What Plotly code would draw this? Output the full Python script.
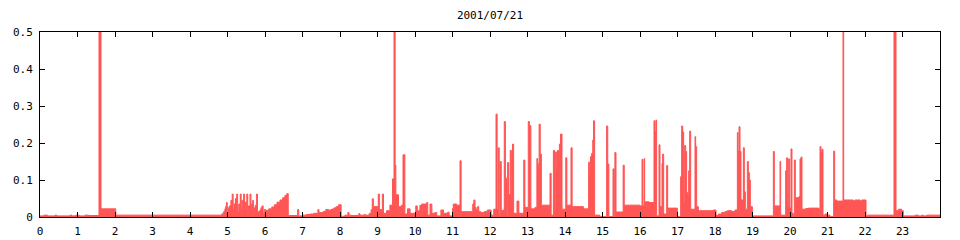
import plotly.graph_objects as go

# Step data: each value holds from its start hour until the next start hour
t_night = [0.0, 0.1, 0.2, 0.4, 0.45, 0.8, 0.85, 0.95, 1.05, 1.2, 1.3, 1.573, 1.627, 2.02,
           4.84, 4.87, 4.9, 4.93, 4.95, 4.97, 4.995, 5.02, 5.05, 5.09, 5.125, 5.15, 5.175,
           5.21, 5.245, 5.27, 5.3, 5.34, 5.365, 5.39, 5.43, 5.455, 5.475, 5.515, 5.54, 5.56,
           5.6, 5.625, 5.645, 5.67, 5.69, 5.71, 5.74, 5.775, 5.8, 5.83, 5.86, 5.89, 5.92,
           5.95, 5.98]
v_night = [0.003, 0.005, 0.003, 0.005, 0.003, 0.005, 0.003, 0.005, 0.003, 0.005, 0.004, 0.6, 0.022, 0.005,
           0.007, 0.01, 0.015, 0.022, 0.028, 0.039, 0.012, 0.025, 0.03, 0.045, 0.062, 0.02, 0.035,
           0.05, 0.062, 0.015, 0.035, 0.062, 0.02, 0.045, 0.062, 0.02, 0.04, 0.062, 0.015, 0.03,
           0.062, 0.02, 0.035, 0.045, 0.015, 0.025, 0.032, 0.062, 0.015, 0.012, 0.018, 0.025, 0.03,
           0.008, 0.02]

t_morning = [6.02, 6.1, 6.18, 6.25, 6.32, 6.4, 6.47, 6.53, 6.58, 6.62, 6.87, 6.9, 7.0, 7.1, 7.2,
             7.3, 7.41, 7.44, 7.55, 7.62, 7.7, 7.75, 7.8, 7.85, 7.9, 7.96, 8.03, 8.13, 8.21, 8.24,
             8.3, 8.5, 8.53, 8.65, 8.68, 8.78, 8.83, 8.86, 8.89, 9.02, 9.05, 9.13, 9.16, 9.24,
             9.33, 9.4, 9.44, 9.47, 9.49, 9.56, 9.64, 9.68, 9.73, 9.8, 9.87, 10.02, 10.06, 10.13,
             10.18, 10.31, 10.34, 10.4, 10.45, 10.53, 10.58, 10.69, 10.76, 10.87, 10.91, 11.0,
             11.02, 11.11, 11.2, 11.23, 11.54, 11.57, 11.6, 11.63, 11.67, 11.7, 11.75, 11.85,
             11.93, 12.03]
v_morning = [0.018, 0.022, 0.027, 0.033, 0.04, 0.046, 0.052, 0.058, 0.063, 0.004, 0.02, 0.003, 0.005, 0.007, 0.008,
             0.01, 0.02, 0.012, 0.015, 0.02, 0.018, 0.02, 0.022, 0.025, 0.028, 0.033, 0.002, 0.005, 0.012, 0.005,
             0.004, 0.009, 0.005, 0.007, 0.005, 0.01, 0.02, 0.049, 0.028, 0.062, 0.02, 0.062, 0.01, 0.017,
             0.032, 0.103, 0.6, 0.14, 0.06, 0.028, 0.032, 0.168, 0.008, 0.022, 0.01, 0.03, 0.017, 0.031,
             0.035, 0.039, 0.005, 0.035, 0.01, 0.012, 0.003, 0.019, 0.01, 0.013, 0.003, 0.023,
             0.035, 0.032, 0.152, 0.0144, 0.035, 0.046, 0.026, 0.019, 0.028, 0.015, 0.012, 0.015,
             0.019, 0.005]

t_afternoon = [12.1, 12.16, 12.19, 12.22, 12.245, 12.27, 12.3, 12.38, 12.41, 12.44, 12.47, 12.5,
               12.54, 12.57, 12.6, 12.63, 12.72, 12.77, 12.9, 12.93, 13.02, 13.05, 13.09, 13.2,
               13.25, 13.27, 13.29, 13.31, 13.34, 13.37, 13.6, 13.63, 13.69, 13.72, 13.75, 13.77,
               13.8, 13.825, 13.85, 13.88, 13.92, 14.02, 14.05, 14.16, 14.19, 14.49, 14.63, 14.66,
               14.68, 14.71, 14.74, 14.76, 14.79, 14.93, 15.11, 15.14, 15.17, 15.28, 15.31, 15.33,
               15.36, 15.55, 15.58, 16.0, 16.053, 16.07, 16.107, 16.124, 16.24, 16.373, 16.4,
               16.427, 16.444, 16.507, 16.533, 16.587, 16.604, 16.631, 16.711, 16.738, 16.996,
               17.084, 17.111, 17.138, 17.164, 17.191, 17.218, 17.244, 17.271, 17.298, 17.324,
               17.351, 17.44, 17.467, 17.484, 17.511, 17.556, 17.956]
v_afternoon = [0.021, 0.278, 0.02, 0.187, 0.004, 0.15, 0.018, 0.258, 0.105, 0.003, 0.147, 0.06,
               0.18, 0.055, 0.197, 0.01, 0.043, 0.01, 0.154, 0.026, 0.258, 0.247, 0.022, 0.026,
               0.158, 0.145, 0.127, 0.251, 0.17, 0.032, 0.118, 0.005, 0.18, 0.02, 0.176, 0.136,
               0.18, 0.156, 0.197, 0.224, 0.021, 0.16, 0.032, 0.187, 0.028, 0.022, 0.148, 0.11,
               0.163, 0.172, 0.208, 0.26, 0.005, 0.001, 0.246, 0.143, 0.001, 0.13, 0.001, 0.174,
               0.0135, 0.14, 0.032, 0.03, 0.156, 0.03, 0.158, 0.041, 0.039, 0.26, 0.23,
               0.262, 0.003, 0.195, 0.028, 0.145, 0.17, 0.008, 0.139, 0.024, 0.001,
               0.109, 0.246, 0.23, 0.039, 0.193, 0.177, 0.066, 0.06, 0.125, 0.232,
               0.021, 0.021, 0.217, 0.19, 0.028, 0.017, 0.019]

t_evening = [18.027, 18.089, 18.178, 18.267, 18.329, 18.444, 18.533, 18.596, 18.613, 18.64, 18.667,
             18.693, 18.756, 18.782, 18.809, 18.862, 18.889, 18.916, 18.942, 18.996, 19.556, 19.582,
             19.733, 19.751, 19.884, 19.911, 19.938, 19.964, 19.991, 20.027, 20.053, 20.089, 20.116,
             20.142, 20.24, 20.267, 20.293, 20.32, 20.418, 20.489, 20.773, 20.8, 20.827, 20.853,
             20.88, 20.933, 21.004, 21.067, 21.164, 21.191, 21.244, 21.413, 21.431, 21.689, 21.733,
             21.867, 21.911, 22.027, 22.071, 22.773, 22.827, 22.889, 22.978, 23.022, 23.333, 23.422,
             23.511, 23.556, 23.644, 24.0]
v_evening = [0.004, 0.008, 0.012, 0.015, 0.017, 0.015, 0.019, 0.228, 0.177, 0.244, 0.177,
             0.046, 0.187, 0.068, 0.021, 0.15, 0.12, 0.1, 0.028, 0.003, 0.177, 0.03,
             0.15, 0.005, 0.125, 0.16, 0.03, 0.157, 0.024, 0.184, 0.01, 0.005, 0.154,
             0.052, 0.055, 0.157, 0.162, 0.021, 0.023, 0.024, 0.021, 0.19, 0.175, 0.183,
             0.005, 0.008, 0.005, 0.001, 0.178, 0.046, 0.043, 0.6, 0.046, 0.043, 0.046,
             0.043, 0.046, 0.003, 0.005, 0.6, 0.017, 0.021, 0.017, 0.003, 0.005, 0.003,
             0.005, 0.003, 0.005, 0.005]

hour_ticks = list(range(24))
y_ticks = [0, 0.1, 0.2, 0.3, 0.4, 0.5]
y_tick_text = ["0", "0.1", "0.2", "0.3", "0.4", "0.5"]
title_text = "2001/07/21"

times = t_night + t_morning + t_afternoon + t_evening
values = v_night + v_morning + v_afternoon + v_evening

FONT = dict(family="DejaVu Sans Mono", size=11, color="black")
RED = "#ff5555"

fig = go.Figure()
fig.add_trace(go.Scatter(
    x=times, y=values, mode="lines", line=dict(shape="hv", color=RED, width=1),
    fill="tozeroy", fillcolor=RED, hoverinfo="skip", showlegend=False,
))

axis_common = dict(showline=True, linecolor="black", linewidth=1, mirror="ticks",
                   ticks="inside", ticklen=5, tickcolor="black", tickwidth=1,
                   showgrid=False, zeroline=False, tickfont=FONT, automargin=False)

fig.update_xaxes(range=[0, 24], tickmode="array", tickvals=hour_ticks,
                 ticktext=[str(h) for h in hour_ticks], ticklabelstandoff=4, **axis_common)
fig.update_yaxes(range=[0, 0.5], tickmode="array", tickvals=y_ticks,
                 ticktext=y_tick_text, ticklabelstandoff=4, **axis_common)

fig.update_layout(
    width=960, height=240,
    margin=dict(l=40, r=20, t=32, b=23, pad=0),
    paper_bgcolor="white", plot_bgcolor="white",
    title=dict(text=title_text, x=0.5, xref="paper", y=1 - 15 / 240, yref="container",
               xanchor="center", yanchor="middle", font=FONT),
    font=FONT,
)

fig.write_html("out.html")
